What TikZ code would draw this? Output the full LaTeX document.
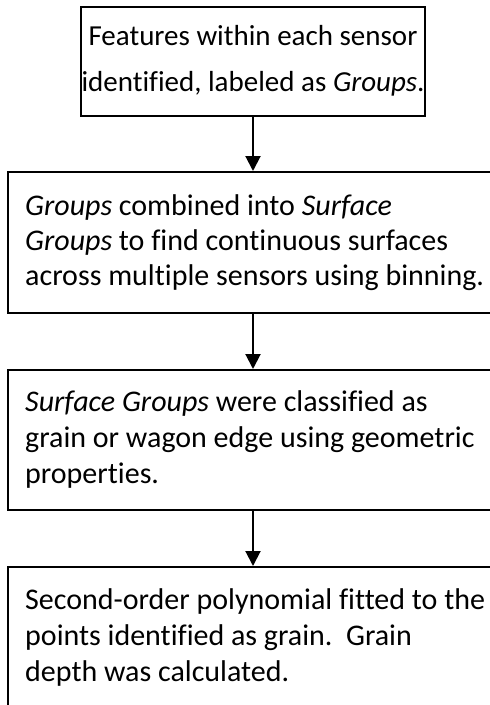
\documentclass[tikz,border=0pt]{standalone}
\usepackage{fontspec}
\setmainfont{Carlito}[Ligatures=NoCommon]
\usetikzlibrary{arrows.meta}
\tikzset{
  stepbox/.style={draw=black, line width=2pt, rectangle, inner sep=0pt},
  flowarrow/.style={draw=black, line width=2pt, -{Triangle[width=15pt,length=15pt]}},
  boxtext/.style={inner sep=0pt, font=\fontsize{30}{35}\selectfont, align=left, anchor=base west},
  widetext/.style={boxtext, font=\fontsize{30}{36}\selectfont},
  toptext/.style={inner sep=0pt, font=\fontsize{29}{46}\selectfont, align=center, anchor=base},
}
\begin{document}
\begin{tikzpicture}[x=1pt,y=-1pt]
\useasboundingbox (0,0) rectangle (490,705);
\fill[white] (0,0) rectangle (490,705);
\clip (0,0) rectangle (490,705);
\node[stepbox, minimum width=344pt, minimum height=109pt] (b1) at (253,61.5) {};
\node[stepbox, minimum width=490pt, minimum height=141pt] (b2) at (253,242.5) {};
\node[stepbox, minimum width=490pt, minimum height=140pt] (b3) at (253,440) {};
\node[stepbox, minimum width=490pt, minimum height=193pt] (b4) at (253,663.5) {};
\node[toptext] (t1) at (253,91) {Features within each sensor\\identified, labeled as \textit{Groups}.};
\node[boxtext] (t2) at (25,285) {\textit{Groups} combined into \textit{Surface}\\\textit{Groups} to find continuous surfaces\\across multiple sensors using binning.};
\node[widetext] (t3) at (25,483) {\textit{Surface Groups} were classified as\\grain or wagon edge using geometric\\properties.};
\node[widetext] (t4) at (25,681) {Second-order polynomial fitted to the\\points identified as grain.\ \ Grain\\depth was calculated.};
\draw[flowarrow] (b1.south) -- (b2.north);
\draw[flowarrow] (b2.south) -- (b3.north);
\draw[flowarrow] (b3.south) -- (b4.north);
\end{tikzpicture}
\end{document}
